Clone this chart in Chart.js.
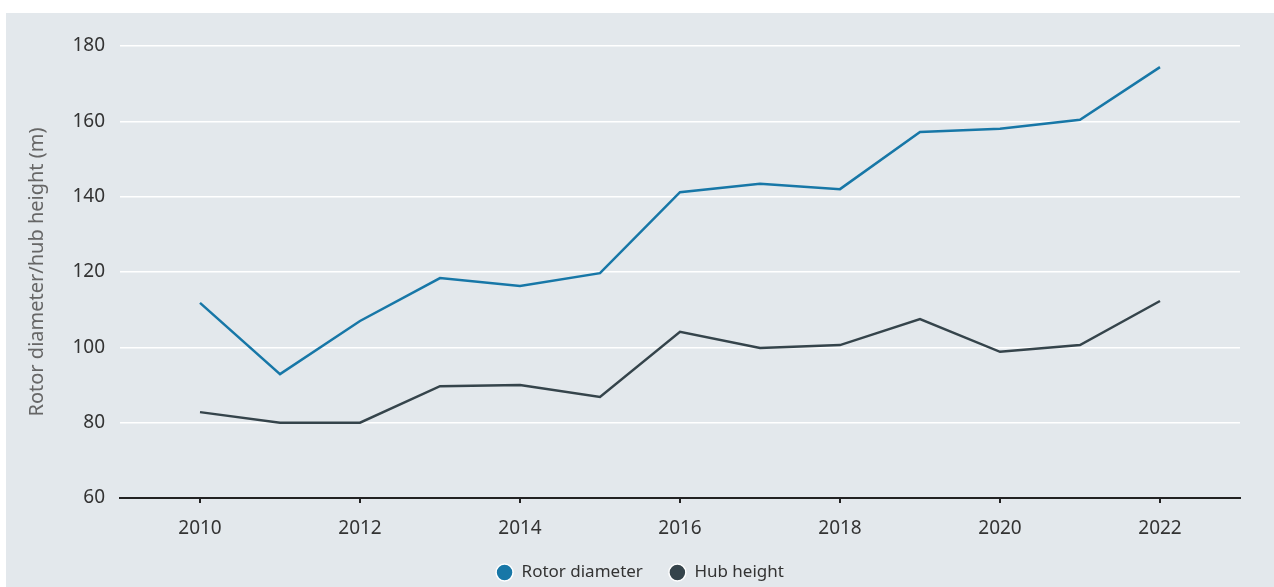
<!DOCTYPE html>
<html>
<head>
<meta charset="utf-8">
<script src="https://cdn.jsdelivr.net/npm/chart.js@4/dist/chart.umd.min.js"></script>
<style>
    html, body { margin: 0; padding: 0; background: #fff; }
    #panel { position: absolute; left: 6px; top: 13px; width: 1268px; height: 574px; background: #e3e8ec; }
</style>
</head>
<body>
<div id="panel"><canvas id="rotorChart" width="1268" height="574"></canvas></div>
<script>
const years = [2010, 2011, 2012, 2013, 2014, 2015, 2016, 2017, 2018, 2019, 2020, 2021, 2022];
const rotorDiameter = [111.8, 92.9, 107, 118.4, 116.3, 119.7, 141.2, 143.4, 142, 157.2, 158, 160.4, 174.4];
const hubHeight = [82.8, 80, 80, 89.7, 90, 86.8, 104.1, 99.8, 100.6, 107.5, 98.8, 100.6, 112.3];
const yearTicks = [2010, 2012, 2014, 2016, 2018, 2020, 2022];
const valueTicks = [60, 80, 100, 120, 140, 160, 180];

const rotorColor = '#1777a7';
const hubColor = '#35444b';
const font = "'Noto Sans', sans-serif";

(function () {
    const canvas = document.getElementById('rotorChart');
    if (!canvas || typeof Chart === 'undefined') return;

    const toPoints = (vals) => vals.map((v, i) => ({ x: years[i], y: v }));

    // legend sits a little right of centre in the original
    const legendShift = {
        id: 'legendShift',
        afterLayout(chart) {
            if (!chart.legend) return;
            chart.legend.left += 17;
            chart.legend.right += 17;
        },
    };

    new Chart(canvas.getContext('2d'), {
        type: 'line',
        data: {
            datasets: [
                { label: 'Rotor diameter', data: toPoints(rotorDiameter), borderColor: rotorColor, backgroundColor: rotorColor },
                { label: 'Hub height', data: toPoints(hubHeight), borderColor: hubColor, backgroundColor: hubColor },
            ],
        },
        plugins: [legendShift],
        options: {
            responsive: false,
            animation: false,
            layout: { padding: { top: 33, right: 34, left: 0, bottom: 0 } },
            elements: {
                line: { borderWidth: 2.5, tension: 0 },
                point: { radius: 0 },
            },
            scales: {
                x: {
                    type: 'linear',
                    min: 2009,
                    max: 2023,
                    afterBuildTicks: (s) => { s.ticks = yearTicks.map((v) => ({ value: v })); },
                    afterFit: (s) => { s.height = 40; },
                    border: { display: true, color: '#222', width: 2 },
                    grid: { drawOnChartArea: false, drawTicks: true, tickLength: 5, color: '#222', lineWidth: 2 },
                    ticks: { color: '#333', font: { family: font, size: 19 }, padding: 14, callback: (v) => String(v) },
                },
                y: {
                    min: 60,
                    max: 180,
                    afterBuildTicks: (s) => { s.ticks = valueTicks.map((v) => ({ value: v })); },
                    afterFit: (s) => { s.width = 114; },
                    border: { display: false },
                    grid: {
                        drawTicks: false,
                        color: (c) => (c.tick && c.tick.value === 60 ? 'rgba(0,0,0,0)' : '#ffffff'),
                        lineWidth: 1.5,
                    },
                    ticks: { color: '#333', font: { family: font, size: 19 }, padding: 15 },
                    title: {
                        display: true,
                        text: 'Rotor diameter/hub height (m)',
                        color: '#666',
                        font: { family: font, size: 20 },
                        padding: { top: 19, bottom: 0 },
                    },
                },
            },
            plugins: {
                tooltip: { enabled: false },
                legend: {
                    position: 'bottom',
                    maxHeight: 49,
                    labels: {
                        color: '#333',
                        font: { family: font, size: 17 },
                        usePointStyle: true,
                        boxWidth: 17,
                        boxHeight: 12,
                        padding: 26,
                        generateLabels: (chart) => chart.data.datasets.map((d, i) => ({
                            text: d.label,
                            fillStyle: d.borderColor,
                            strokeStyle: '#ffffff',
                            lineWidth: 1.5,
                            pointStyle: 'circle',
                            fontColor: '#333',
                            datasetIndex: i,
                        })),
                    },
                },
            },
        },
    });
})();
</script>
</body>
</html>
